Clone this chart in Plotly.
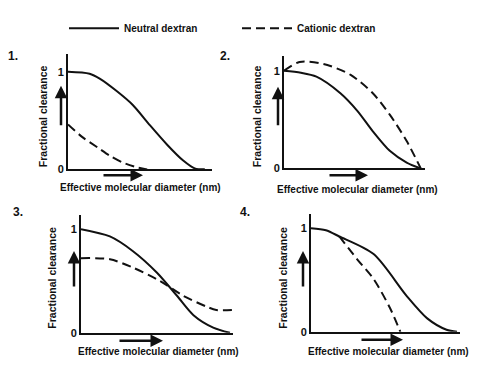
import plotly.graph_objects as go

W, H = 495, 392

# ---- data (x = fraction of effective molecular diameter axis, y = fractional clearance)
p1_neutral_x = [0.0, 0.15, 0.22, 0.34, 0.45, 0.57, 0.69, 0.80, 0.88, 0.95]
p1_neutral_y = [1.0, 0.98, 0.93, 0.80, 0.66, 0.45, 0.25, 0.09, 0.01, 0.0]
p1_cation_x = [0.0, 0.10, 0.21, 0.29, 0.38, 0.48, 0.55]
p1_cation_y = [0.46, 0.33, 0.22, 0.14, 0.07, 0.02, 0.0]

p2_neutral_x = [0.0, 0.12, 0.23, 0.40, 0.52, 0.63, 0.75, 0.87, 0.97]
p2_neutral_y = [1.0, 0.98, 0.94, 0.77, 0.59, 0.38, 0.18, 0.06, 0.0]
p2_cation_x = [0.0, 0.11, 0.28, 0.47, 0.63, 0.75, 0.87, 0.97]
p2_cation_y = [1.0, 1.09, 1.07, 0.96, 0.77, 0.55, 0.28, 0.0]

p3_neutral_x = [0.0, 0.19, 0.34, 0.50, 0.63, 0.74, 0.87, 0.98]
p3_neutral_y = [1.0, 0.93, 0.79, 0.58, 0.36, 0.17, 0.05, 0.0]
p3_cation_x = [0.0, 0.19, 0.34, 0.52, 0.67, 0.83, 0.89, 1.0]
p3_cation_y = [0.72, 0.71, 0.63, 0.50, 0.36, 0.25, 0.22, 0.22]

p4_neutral_x = [0.0, 0.10, 0.19, 0.42, 0.64, 0.78, 0.91, 0.98]
p4_neutral_y = [1.0, 0.98, 0.92, 0.75, 0.35, 0.13, 0.02, 0.0]
p4_cation_x = [0.19, 0.31, 0.42, 0.53, 0.60]
p4_cation_y = [0.92, 0.70, 0.51, 0.23, 0.0]

tick_vals = [0, 1]
tick_text = ["0", "1"]
panel_labels = ["1.", "2.", "3.", "4."]
series_names = ["Neutral dextran", "Cationic dextran"]
x_title = "Effective molecular diameter (nm)"
y_title = "Fractional clearance"

FONT = "Liberation Sans Narrow, Arial Narrow, Liberation Sans, sans-serif"

def px(x):
    return x / W

def py(y):
    return 1 - y / H

# panel geometry in pixels: (x0, x1, ybase, ytop, ymax)
panels = [
    (68, 212, 172, 55, 1.18),
    (284, 425, 171, 57, 1.15),
    (81, 233, 338, 218, 1.14),
    (311, 460, 337, 217, 1.14),
]
data = [
    (p1_neutral_x, p1_neutral_y, p1_cation_x, p1_cation_y),
    (p2_neutral_x, p2_neutral_y, p2_cation_x, p2_cation_y),
    (p3_neutral_x, p3_neutral_y, p3_cation_x, p3_cation_y),
    (p4_neutral_x, p4_neutral_y, p4_cation_x, p4_cation_y),
]

fig = go.Figure()
layout = dict(
    width=W, height=H,
    margin=dict(l=0, r=0, t=0, b=0),
    paper_bgcolor="white", plot_bgcolor="white",
    font=dict(family=FONT, color="#111", size=11),
    showlegend=True,
    legend=dict(orientation="h", x=px(64), y=py(14), xanchor="left", yanchor="top",
                font=dict(family=FONT, size=10, color="#111"),
                entrywidth=108, entrywidthmode="pixels", bgcolor="rgba(0,0,0,0)",
                itemwidth=50),
)

for i, ((x0, x1, yb, yt, ymax), (nx, ny, cx, cy)) in enumerate(zip(panels, data)):
    n = "" if i == 0 else str(i + 1)
    xa, ya = "x" + n, "y" + n
    fig.add_trace(go.Scatter(x=nx, y=ny, mode="lines", line=dict(color="#111", width=2, shape="spline", smoothing=0.8),
                             name="<b>" + series_names[0] + "</b>", showlegend=(i == 0), xaxis=xa, yaxis=ya,
                             hoverinfo="skip", cliponaxis=False))
    fig.add_trace(go.Scatter(x=cx, y=cy, mode="lines", line=dict(color="#111", width=2, dash="9px,5px", shape="spline", smoothing=0.8),
                             name="<b>" + series_names[1] + "</b>", showlegend=(i == 0), xaxis=xa, yaxis=ya,
                             hoverinfo="skip", cliponaxis=False))
    layout["xaxis" + n] = dict(domain=[px(x0), px(x1)], range=[0, 1], anchor=ya,
                               showline=True, linecolor="#111", linewidth=2, showgrid=False,
                               zeroline=False, showticklabels=False, ticks="")
    layout["yaxis" + n] = dict(domain=[py(yb), py(yt)], range=[0, ymax], anchor=xa,
                               showline=True, linecolor="#111", linewidth=2, showgrid=False,
                               zeroline=False, tickvals=tick_vals, ticktext=["<b>%s</b>" % t for t in tick_text],
                               ticks="", tickfont=dict(size=11, family=FONT, color="#111"))

fig.update_layout(**layout)

# panel number labels, axis titles and arrows
label_pos = [(13, 57), (225, 57), (18, 215), (245, 215)]
ytitle_pos = [(43, 118), (257, 118), (52, 282), (283, 282)]
xtitle_pos = [(140, 190), (357, 192), (158, 357), (388, 357)]
rarrow = [(102, 143, 178), (328, 368, 178), (118, 163, 346), (360, 403, 345)]
uarrow = [(61, 128, 87), (278, 128, 88), (74, 292, 255), (303, 292, 255)]

ann = []
for i in range(4):
    lx, ly = label_pos[i]
    ann.append(dict(x=px(lx), y=py(ly), xref="paper", yref="paper", text="<b>%s</b>" % panel_labels[i],
                    showarrow=False, font=dict(size=12, family=FONT), xanchor="center", yanchor="middle"))
    tx, ty = ytitle_pos[i]
    ann.append(dict(x=px(tx), y=py(ty), xref="paper", yref="paper", text="<b>%s</b>" % y_title,
                    showarrow=False, textangle=-90, font=dict(size=10.5, family=FONT), xanchor="center", yanchor="middle"))
    tx, ty = xtitle_pos[i]
    ann.append(dict(x=px(tx), y=py(ty), xref="paper", yref="paper", text="<b>%s</b>" % x_title,
                    showarrow=False, font=dict(size=10, family=FONT), xanchor="center", yanchor="middle"))
    a0, a1, ay = rarrow[i]
    ann.append(dict(x=px(a1), y=py(ay), ax=a0 - a1, ay=0, xref="paper", yref="paper",
                    axref="pixel", ayref="pixel", text="", showarrow=True, arrowhead=2,
                    arrowsize=1, arrowwidth=2.5, arrowcolor="#111"))
    ux, u0, u1 = uarrow[i]
    ann.append(dict(x=px(ux), y=py(u1), ax=0, ay=u0 - u1, xref="paper", yref="paper",
                    axref="pixel", ayref="pixel", text="", showarrow=True, arrowhead=2,
                    arrowsize=1, arrowwidth=2.5, arrowcolor="#111"))

fig.update_layout(annotations=ann)
fig.write_html("out.html", config={"displayModeBar": False},
               post_script="document.body.style.margin='0';")
